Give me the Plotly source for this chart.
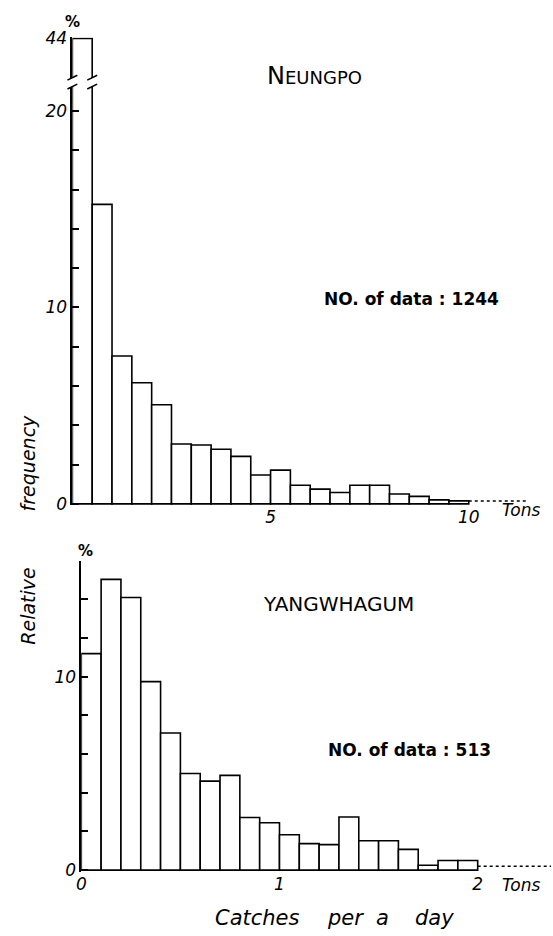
import plotly.graph_objects as go

W, H = 553, 936

# ---------------- data ----------------
# NEUNGPO : 0.5-ton classes, relative frequency (%)
neungpo_class_start = [0.0, 0.5, 1.0, 1.5, 2.0, 2.5, 3.0, 3.5, 4.0, 4.5,
                       5.0, 5.5, 6.0, 6.5, 7.0, 7.5, 8.0, 8.5, 9.0, 9.5]
neungpo_pct = [44.0, 15.25, 7.53, 6.17, 5.05, 3.05, 3.0, 2.78, 2.42, 1.47,
               1.72, 0.95, 0.75, 0.58, 0.95, 0.95, 0.5, 0.38, 0.2, 0.15]
neungpo_tail_x = [10.0, 11.5]
neungpo_tail_pct = [0.15, 0.15]
neungpo_width = 0.5
neungpo_n = 1244

# YANGWHAGUM : 0.1-ton classes, relative frequency (%)
yang_class_start = [0.0, 0.1, 0.2, 0.3, 0.4, 0.5, 0.6, 0.7, 0.8, 0.9,
                    1.0, 1.1, 1.2, 1.3, 1.4, 1.5, 1.6, 1.7, 1.8, 1.9]
yang_pct = [11.2, 15.04, 14.1, 9.75, 7.09, 5.0, 4.6, 4.9, 2.72, 2.45,
            1.83, 1.37, 1.32, 2.75, 1.52, 1.52, 1.07, 0.25, 0.5, 0.5]
yang_tail_x = [2.0, 2.37]
yang_tail_pct = [0.2, 0.2]
yang_width = 0.1
yang_n = 513

top_ytick_vals = [0, 2, 4, 6, 8, 10, 12, 14, 16, 18, 20]
top_ytick_text = ["0", "", "", "", "", "10", "", "", "", "", "20"]
top_break_tick_vals = [44]
top_break_tick_text = ["44"]
bot_ytick_vals = [0, 2, 4, 6, 8, 10, 12, 14, 16]
bot_ytick_text = ["0", "", "", "", "", "10", "", "", ""]
top_xtick_vals = [5, 10]
top_xtick_text = ["5", "10"]
bot_xtick_vals = [0, 1, 2]
bot_xtick_text = ["0", "1", "2"]

# ---------------- helpers ----------------
def px_x(p):
    return p / W

def px_y(p):
    return 1 - p / H

FONT = "DejaVu Sans"
ital = dict(family=FONT, size=17, color="black", style="italic")
LW = 1.6

# domains / ranges
top_xdom = [px_x(68), px_x(544)]
top_xrange = [0, 11.9]
bot_xdom = [px_x(77), px_x(551)]
bot_xrange = [0, 2.37]

fig = go.Figure()

bar_style = dict(marker=dict(color="white", line=dict(color="black", width=LW)),
                 showlegend=False, hoverinfo="x+y")

nx = [s + neungpo_width / 2 for s in neungpo_class_start]
yx = [s + yang_width / 2 for s in yang_class_start]

fig.add_trace(go.Bar(x=nx, y=neungpo_pct, width=neungpo_width, xaxis="x", yaxis="y", **bar_style))
fig.add_trace(go.Bar(x=nx, y=neungpo_pct, width=neungpo_width, xaxis="x2", yaxis="y2", **bar_style))
fig.add_trace(go.Scatter(x=neungpo_tail_x, y=neungpo_tail_pct, mode="lines", xaxis="x2", yaxis="y2",
                         line=dict(color="black", width=1.5, dash="dot"), showlegend=False))
fig.add_trace(go.Bar(x=yx, y=yang_pct, width=yang_width, xaxis="x3", yaxis="y3", **bar_style))
fig.add_trace(go.Scatter(x=yang_tail_x, y=yang_tail_pct, mode="lines", xaxis="x3", yaxis="y3",
                         line=dict(color="black", width=1.5, dash="dot"), showlegend=False))

common_y = dict(showline=True, linecolor="black", linewidth=LW, showgrid=False, zeroline=False,
                tickfont=ital, ticks="inside", ticklen=7, tickwidth=1.5, tickcolor="black")
common_x = dict(showline=False, showgrid=False, zeroline=False, ticks="", tickfont=ital)

fig.update_layout(
    width=W, height=H, autosize=False,
    margin=dict(l=0, r=0, t=0, b=0),
    paper_bgcolor="white", plot_bgcolor="white",
    barmode="overlay",
    xaxis=dict(domain=top_xdom, range=top_xrange, anchor="y", visible=False),
    yaxis=dict(domain=[px_y(70), px_y(29)], range=[42.0, 44.05], anchor="x",
               tickvals=top_break_tick_vals, ticktext=top_break_tick_text,
               **{**common_y, "ticks": ""}),
    xaxis2=dict(domain=top_xdom, range=top_xrange, anchor="y2",
                tickvals=top_xtick_vals, ticktext=top_xtick_text, **common_x),
    yaxis2=dict(domain=[px_y(505.6), px_y(79)], range=[-0.08, 21.25], anchor="x2",
                tickvals=top_ytick_vals, ticktext=top_ytick_text, **common_y),
    xaxis3=dict(domain=bot_xdom, range=bot_xrange, anchor="y3",
                tickvals=bot_xtick_vals, ticktext=bot_xtick_text, **common_x),
    yaxis3=dict(domain=[px_y(878.6), px_y(562)], range=[-0.08, 16], anchor="x3",
                tickvals=bot_ytick_vals, ticktext=bot_ytick_text, **common_y),
)

# break marks on the axis and on the first bar's right edge (top panel)
def data_to_paper_x(x, dom, rng):
    return dom[0] + (x - rng[0]) / (rng[1] - rng[0]) * (dom[1] - dom[0])

break_edges = [neungpo_class_start[0], neungpo_class_start[0] + neungpo_width]
for xe in break_edges:
    xp = data_to_paper_x(xe, top_xdom, top_xrange)
    for cy in (70, 79):
        fig.add_shape(type="line", xref="paper", yref="paper",
                      x0=xp - px_x(5), y0=px_y(cy + 2.5), x1=xp + px_x(5), y1=px_y(cy - 2.5),
                      line=dict(color="black", width=1.5))

def ann(text, x, y, size, style="normal", weight="normal", angle=0, xanchor="center"):
    fig.add_annotation(text=text, x=px_x(x), y=px_y(y), xref="paper", yref="paper",
                       showarrow=False, textangle=angle, xanchor=xanchor, yanchor="middle",
                       font=dict(family=FONT, size=size, color="black", style=style, weight=weight))

ann("%", 68, 13, 15, weight="bold")
ann("%", 81, 552, 15, weight="bold")
ann("N<span style='font-size:18px'>EUNGPO</span>", 312, 68, 24)
ann("YANGWHAGUM", 337, 606, 20)
ann(f"NO. of data : {neungpo_n}", 410, 295, 17, weight="bold")
ann(f"NO. of data : {yang_n}", 408, 755, 17, weight="bold")
ann("frequency", 23, 463, 19, style="italic", angle=-90)
ann("Relative", 23, 608, 19, style="italic", angle=-90)
ann("Tons", 521, 510, 17, style="italic")
ann("Tons", 521, 892, 17, style="italic")
for word, cx in (("Catches", 255), ("per", 344), ("a", 381), ("day", 433)):
    ann(word, cx, 926, 21, style="italic")

fig.write_html(
    "out.html",
    config={"displayModeBar": False},
    post_script="document.documentElement.style.margin='0';document.body.style.margin='0';"
                "document.body.style.overflow='hidden';",
)
